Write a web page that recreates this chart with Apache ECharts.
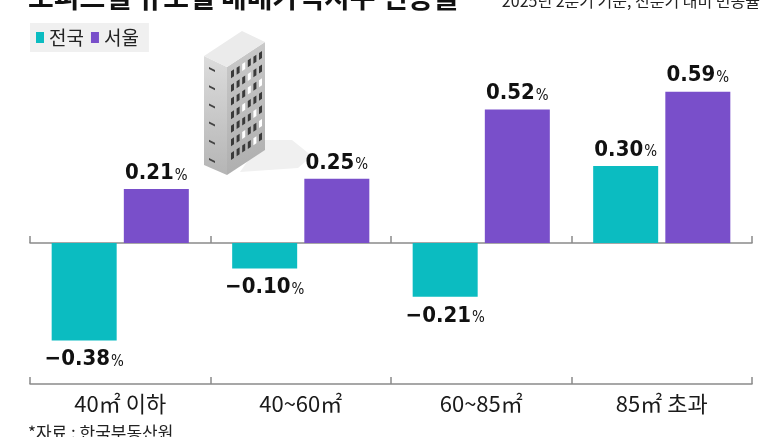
<!DOCTYPE html>
<html>
<head>
<meta charset="utf-8">
<script src="https://cdn.jsdelivr.net/npm/echarts@6/dist/echarts.min.js"></script>
<style>
  html, body { margin: 0; padding: 0; background: #fff; }
  #chart { width: 777px; height: 437px; }
</style>
</head>
<body>
<div id="chart"></div>
<script>
const categories = ['40㎡ 이하', '40~60㎡', '60~85㎡', '85㎡ 초과'];
const seriesNames = ['전국', '서울'];
const nationwide = [-0.38, -0.10, -0.21, 0.30];
const seoul = [0.21, 0.25, 0.52, 0.59];

const TEAL = '#0bbcc1';
const PURPLE = '#794fca';
const NUM_FONT = "'Liberation Sans Narrow', 'DejaVu Sans Condensed', sans-serif";
const KR_FONT = "'Noto Sans CJK KR', sans-serif";

function fmt(v) {
  return (v < 0 ? '−' : '') + Math.abs(v).toFixed(2);
}

function toItems(arr) {
  return arr.map(function (v) {
    return {
      value: v,
      label: { position: v < 0 ? 'bottom' : 'top', distance: v < 0 ? 8 : 5 }
    };
  });
}

const labelStyle = {
  show: true,
  formatter: function (p) {
    return '{v|' + fmt(p.value) + '}{p|%}';
  },
  rich: {
    v: { fontSize: 22, fontWeight: 'bold', fontFamily: NUM_FONT, color: '#111', verticalAlign: 'bottom' },
    p: { fontSize: 15, fontFamily: NUM_FONT, color: '#111', verticalAlign: 'bottom', padding: [0, 0, 1, 1] }
  }
};

// decorative building illustration
function buildingGraphics() {
  const els = [];
  const G = echarts.graphic;
  els.push({ type: 'polygon', z: 1, shape: { points: [[262, 140], [292, 140], [312, 156], [298, 168], [240, 172]] }, style: { fill: '#f0f0f0' } });
  els.push({ type: 'polygon', z: 2, shape: { points: [[204, 56], [227, 67], [227, 175], [204, 165]] },
    style: { fill: new G.LinearGradient(0, 0, 0, 1, [{ offset: 0, color: '#dcdcdc' }, { offset: 1, color: '#b5b5b5' }]) } });
  els.push({ type: 'polygon', z: 2, shape: { points: [[227, 67], [265, 42], [265, 150], [227, 175]] },
    style: { fill: new G.LinearGradient(0, 0, 1, 1, [{ offset: 0, color: '#cbcbcb' }, { offset: 1, color: '#adadad' }]) } });
  els.push({ type: 'polygon', z: 2, shape: { points: [[204, 56], [242, 31], [265, 42], [227, 67]] }, style: { fill: '#ebebeb' } });
  const lit = ['0-2', '1-3', '2-3', '2-5', '3-2', '4-4', '5-2', '5-5', '6-4'];
  for (let r = 0; r < 7; r++) {
    for (let c = 0; c < 6; c++) {
      const x = 231 + c * 5.6;
      const y = 67 - (x - 227) * 25 / 38 + 7 + r * 13.6;
      els.push({ type: 'polygon', z: 3, shape: { points: [[x, y], [x + 3, y - 2], [x + 3, y + 5], [x, y + 7]] },
        style: { fill: lit.indexOf(r + '-' + c) >= 0 ? '#ffffff' : '#3a3a3a' } });
    }
  }
  for (let r = 0; r < 6; r++) {
    const y = 67 + r * 18.2;
    els.push({ type: 'polygon', z: 3, shape: { points: [[209, y], [215, y + 3], [215, y + 5], [209, y + 2]] }, style: { fill: '#444' } });
  }
  return els;
}

const chart = echarts.init(document.getElementById('chart'));
const option = {
  animation: false,
  color: [TEAL, PURPLE],
  legend: {
    data: seriesNames,
    left: 30,
    top: 23,
    icon: 'rect',
    itemWidth: 8,
    itemHeight: 11,
    itemGap: 7,
    padding: [5, 10, 5, 6],
    backgroundColor: '#f0f0f0',
    textStyle: { fontSize: 19, color: '#222', fontFamily: KR_FONT }
  },
  grid: { left: 30, right: 25, top: 25, bottom: 53 },
  xAxis: [
    {
      type: 'category',
      data: categories,
      position: 'top',
      axisLine: { onZero: true, lineStyle: { color: '#8a8a8a', width: 1.5 } },
      axisTick: { show: true, inside: false, length: 7, lineStyle: { color: '#8a8a8a', width: 1.5 } },
      axisLabel: { show: false }
    },
    {
      type: 'category',
      data: categories,
      position: 'bottom',
      axisLine: { onZero: false, lineStyle: { color: '#8a8a8a', width: 1.5 } },
      axisTick: { show: true, inside: true, length: 7, lineStyle: { color: '#8a8a8a', width: 1.5 } },
      axisLabel: { margin: 9, fontSize: 22, color: '#1a1a1a', fontFamily: "'Liberation Sans Narrow', 'Noto Sans CJK KR', sans-serif" }
    }
  ],
  yAxis: {
    type: 'value',
    min: -0.55,
    max: 0.85,
    show: false,
    splitLine: { show: false }
  },
  series: [
    {
      name: seriesNames[0],
      type: 'bar',
      xAxisIndex: 0,
      barWidth: 65,
      barGap: '11%',
      data: toItems(nationwide),
      label: labelStyle
    },
    {
      name: seriesNames[1],
      type: 'bar',
      xAxisIndex: 0,
      barWidth: 65,
      barGap: '11%',
      data: toItems(seoul),
      label: labelStyle
    }
  ],
  graphic: buildingGraphics().concat([
    {
      type: 'text', left: 28, top: -17, z: 5,
      style: { text: '오피스텔 규모별 매매가격지수 변동률', fontSize: 28, fontWeight: 'bold', fill: '#111', fontFamily: KR_FONT }
    },
    {
      type: 'text', right: 17, top: -7, z: 5,
      style: { text: '2025년 2분기 기준, 전분기 대비 변동률', fontSize: 16, fill: '#222', fontFamily: KR_FONT }
    },
    {
      type: 'text', left: 28, top: 424, z: 5,
      style: { text: '*자료 : 한국부동산원', fontSize: 17, fill: '#222', fontFamily: KR_FONT }
    }
  ])
};
chart.setOption(option);
</script>
</body>
</html>
